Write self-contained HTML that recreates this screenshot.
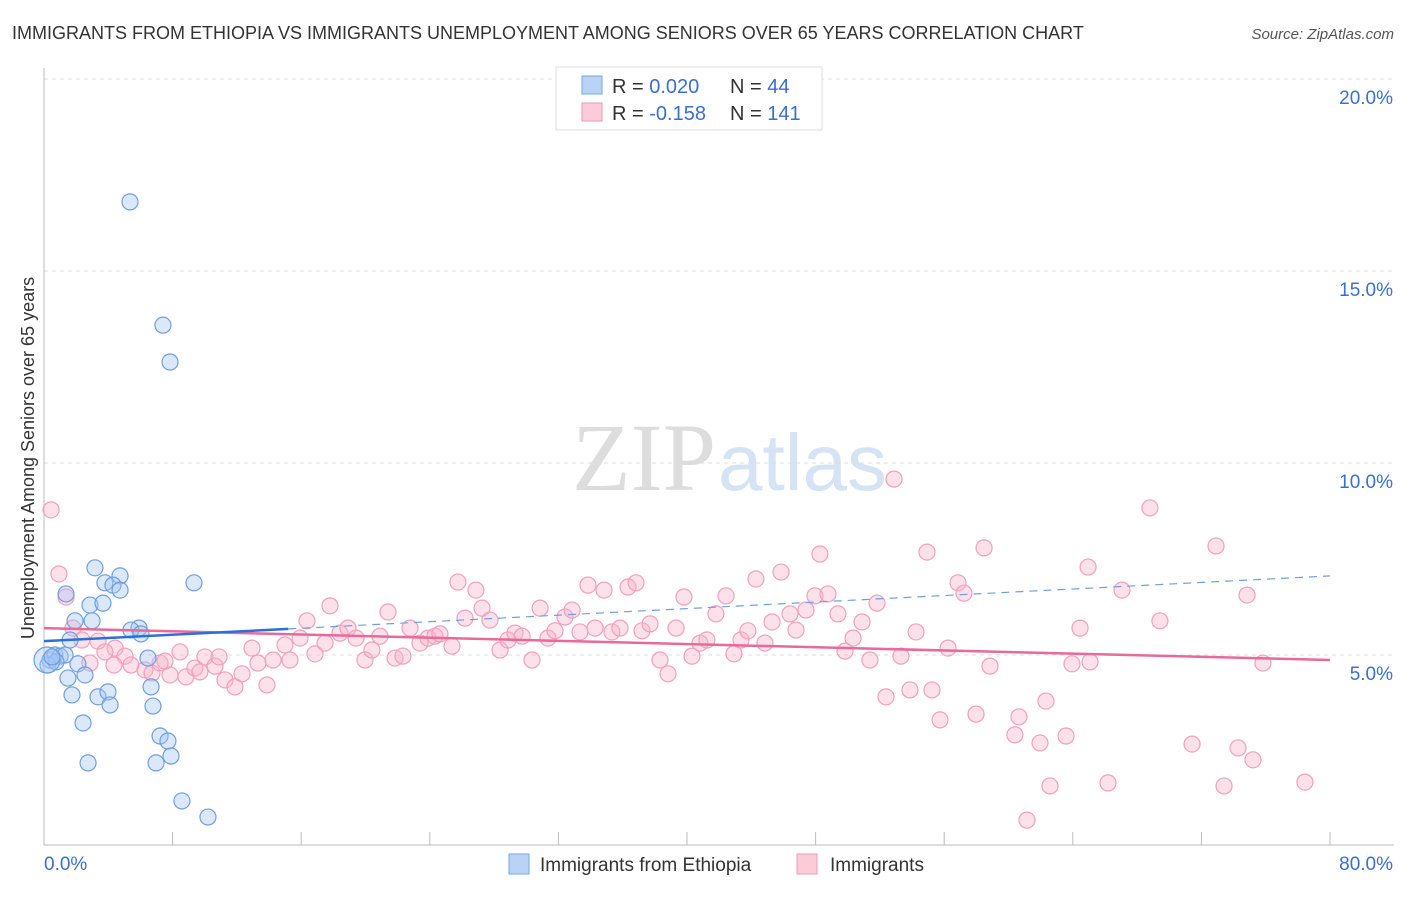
<!DOCTYPE html>
<html><head><meta charset="utf-8"><style>
body{margin:0;background:#fff;font-family:"Liberation Sans",sans-serif;}
svg text{font-family:"Liberation Sans",sans-serif;}
</style></head><body>
<svg id="chart" width="1406" height="892">
<text x="12" y="39" font-size="18" fill="#333">IMMIGRANTS FROM ETHIOPIA VS IMMIGRANTS UNEMPLOYMENT AMONG SENIORS OVER 65 YEARS CORRELATION CHART</text>
<text x="1394" y="39" font-size="15" fill="#555" font-style="italic" text-anchor="end">Source: ZipAtlas.com</text>
<text x="716" y="490" font-size="96" fill="#ddd" text-anchor="end" style="font-family:'Liberation Serif',serif">ZIP</text>
<text x="718" y="490" font-size="80" fill="#d5e3f5">atlas</text>
<g id="grid"></g><g id="marks"></g>
<text transform="translate(34,458) rotate(-90)" font-size="18" fill="#333" text-anchor="middle">Unemployment Among Seniors over 65 years</text>
<g>
<rect x="556" y="67" width="266" height="63" fill="#fff" stroke="#ddd"/>
<rect x="582" y="76" width="20" height="18" fill="#b9d3f5" stroke="#7aa6e0"/>
<rect x="582" y="103" width="20" height="18" fill="#fbcbd9" stroke="#f099b5"/>
<text x="612" y="93" font-size="20" fill="#333">R = <tspan fill="#3a6fd0">0.020</tspan></text>
<text x="730" y="93" font-size="20" fill="#333">N = <tspan fill="#3a6fd0"> 44</tspan></text>
<text x="612" y="120" font-size="20" fill="#333">R = <tspan fill="#3a6fd0">-0.158</tspan></text>
<text x="730" y="120" font-size="20" fill="#333">N = <tspan fill="#3a6fd0">141</tspan></text>
</g>
<g>
<rect x="509" y="854" width="20" height="20" fill="#b9d3f5" stroke="#7aa6e0"/>
<text x="540" y="871" font-size="19" fill="#333">Immigrants from Ethiopia</text>
<rect x="797" y="854" width="20" height="20" fill="#fbcbd9" stroke="#f099b5"/>
<text x="830" y="871" font-size="19" fill="#333">Immigrants</text>
</g>
</svg>
<script>
const yTicks=[5,10,15,20];
const yTickLabels=["5.0%","10.0%","15.0%","20.0%"];
const xTicks=[0,8,16,24,32,40,48,56,64,72,80];
const blueX=[5.35,7.40,7.84,3.17,4.73,9.33,3.79,4.29,2.86,3.67,4.73,1.37,1.93,2.99,5.91,5.41,6.03,6.47,2.11,2.55,1.49,6.66,3.36,3.98,1.74,4.11,6.78,2.43,7.22,7.71,7.90,6.97,2.74,8.58,10.20,0.37,0.68,1.00,1.31,0.25,0.75,1.62,0.19,0.50];
const blueY=[16.80,13.59,12.63,7.27,7.06,6.88,6.88,6.82,6.30,6.35,6.69,6.59,5.89,5.89,5.70,5.65,5.55,4.92,4.77,4.48,4.40,4.17,3.91,4.04,3.96,3.70,3.67,3.23,2.89,2.76,2.37,2.19,2.19,1.20,0.78,4.87,5.00,4.97,5.00,4.74,4.82,5.39,4.87,4.95];
const pinkX=[0.44,0.93,1.37,1.80,2.36,3.36,4.42,5.04,2.86,3.79,4.35,5.41,6.28,6.72,7.22,7.53,7.84,8.46,8.83,9.39,10.01,9.70,10.64,10.89,11.26,11.88,12.32,12.94,13.31,13.87,14.25,14.99,15.30,15.93,16.36,16.86,17.48,17.79,18.41,18.91,19.41,19.97,20.40,20.90,21.40,21.84,22.33,22.77,23.39,23.89,24.32,24.63,25.38,25.75,26.19,26.87,27.25,27.74,28.37,28.86,29.30,29.74,30.36,30.86,31.35,31.79,32.41,32.85,33.34,33.84,34.28,34.84,35.33,35.83,36.33,36.83,37.20,37.70,38.32,38.82,39.32,39.81,40.31,40.81,41.24,41.80,42.43,42.92,43.36,43.79,44.29,44.85,45.29,45.85,46.41,46.78,47.40,47.96,48.27,48.77,49.39,49.83,50.33,50.89,51.38,51.82,52.38,52.88,53.31,53.87,54.25,54.93,55.24,55.74,56.24,56.86,57.23,57.98,58.48,58.85,60.40,60.65,61.15,61.96,62.33,62.58,63.58,63.95,64.45,65.07,64.95,66.19,67.06,68.80,69.42,71.42,72.91,73.41,74.28,74.84,75.21,75.83,78.44];
const pinkY=[8.78,7.11,6.51,5.70,5.39,5.36,5.18,4.97,4.79,5.08,4.74,4.74,4.61,4.53,4.79,4.84,4.48,5.08,4.43,4.66,4.95,4.56,4.71,4.95,4.35,4.17,4.51,5.18,4.79,4.22,4.87,5.26,4.87,5.44,5.89,5.03,5.31,6.28,5.57,5.70,5.44,4.87,5.13,5.49,6.12,4.92,4.97,5.70,5.31,5.44,5.49,5.55,5.23,6.90,5.96,6.69,6.22,5.91,5.13,5.39,5.57,5.49,4.87,6.22,5.44,5.63,5.99,6.17,5.60,6.82,5.70,6.69,5.60,5.70,6.77,6.88,5.63,5.81,4.87,4.51,5.70,6.51,4.97,5.31,5.39,6.07,6.54,5.03,5.39,5.63,6.98,5.31,5.86,7.16,6.07,5.65,6.17,6.54,7.63,6.59,6.07,5.10,5.44,5.86,4.87,6.35,3.91,9.58,4.97,4.09,5.60,7.68,4.09,3.31,5.18,6.88,6.61,3.46,7.79,4.71,2.92,3.39,0.70,2.71,3.80,1.59,2.89,4.77,5.70,4.82,7.29,1.67,6.69,8.83,5.89,2.68,7.84,1.59,2.58,6.56,2.27,4.79,1.69];
const blueTrendX=[0,15.2,80];
const blueTrendY=[5.36,5.68,7.06];
const pinkTrendX=[0,80];
const pinkTrendY=[5.70,4.87];
const NS="http://www.w3.org/2000/svg";
const xs=v=>44+v*1286/80;
const ys=v=>847-v*38.4;
const grid=document.getElementById('grid'),marks=document.getElementById('marks');
function mk(tag,attrs,parent){const e=document.createElementNS(NS,tag);for(const k in attrs)e.setAttribute(k,attrs[k]);parent.appendChild(e);return e;}
yTicks.forEach((t,i)=>{
 const l=mk('line',{x1:44,x2:1394,y1:ys(t),y2:ys(t),stroke:'#ddd','stroke-dasharray':'4,4'},grid);
 
 
 const tx=mk('text',{x:1393,y:ys(t)+25,'font-size':19,fill:'#3a6fd0','text-anchor':'end'},grid);
 tx.textContent=yTickLabels[i];
 
 
});
const ax=mk('line',{x1:44,x2:44,y1:68,y2:845,stroke:'#bbb'},grid);


const axx=mk('line',{x1:44,x2:1394,y1:845,y2:845,stroke:'#bbb'},grid);


xTicks.forEach(t=>{const l=mk('line',{x1:xs(t),x2:xs(t),y1:832,y2:845,stroke:'#bbb'},grid);
 
 });
const x0=mk('text',{x:44,y:870,'font-size':19,fill:'#3a6fd0'},grid);x0.textContent='0.0%';


const x1=mk('text',{x:1393,y:870,'font-size':19,fill:'#3a6fd0','text-anchor':'end'},grid);x1.textContent='80.0%';


pinkX.forEach((v,i)=>{const c=mk('circle',{cx:xs(v),cy:ys(pinkY[i]),r:8,fill:'rgba(248,180,202,0.4)',stroke:'#f2a0bb','stroke-width':1.2},marks);
 
 });
blueX.forEach((v,i)=>{const c=mk('circle',{cx:xs(v),cy:ys(blueY[i]),r:(i==42?13:8),fill:'rgba(165,198,242,0.4)',stroke:'#6f9fe0','stroke-width':1.2},marks);
 
 });
const pl=mk('line',{x1:xs(pinkTrendX[0]),y1:ys(pinkTrendY[0]),x2:xs(pinkTrendX[1]),y2:ys(pinkTrendY[1]),stroke:'#e8699a','stroke-width':2.5},marks);


const bl=mk('line',{x1:xs(blueTrendX[0]),y1:ys(blueTrendY[0]),x2:xs(blueTrendX[1]),y2:ys(blueTrendY[1]),stroke:'#2e6fd6','stroke-width':2.5},marks);


const bd=mk('line',{x1:xs(blueTrendX[1]),y1:ys(blueTrendY[1]),x2:xs(blueTrendX[2]),y2:ys(blueTrendY[2]),stroke:'#6f9fe0','stroke-width':1.2,'stroke-dasharray':'8,6'},marks);


</script>
</body></html>
